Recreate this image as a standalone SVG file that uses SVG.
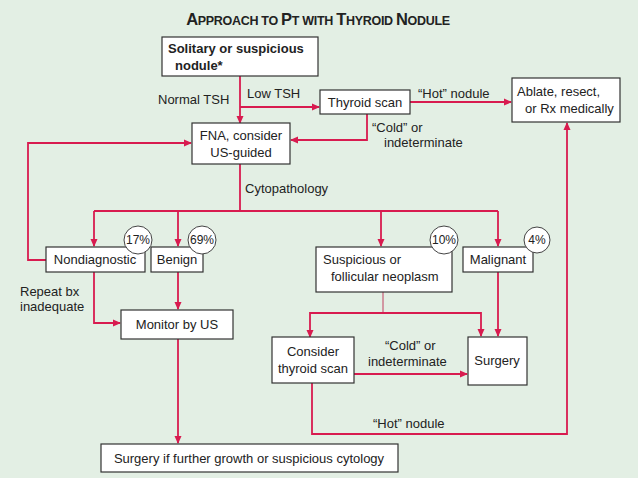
<svg xmlns="http://www.w3.org/2000/svg" width="638" height="478" viewBox="0 0 638 478">
<defs>
<marker id="a" markerWidth="8" markerHeight="8" refX="7" refY="4" orient="auto" markerUnits="userSpaceOnUse"><path d="M0,0.5 L8,4 L0,7.5 Z" fill="#d81b4f"/></marker>
<style>
.b{fill:#fff;stroke:#333;stroke-width:1.2}
.t{font-family:"Liberation Sans",Arial,sans-serif;font-size:13px;fill:#222}
.c{fill:none;stroke:#d81b4f;stroke-width:1.8}
.ar{marker-end:url(#a)}
.p{fill:#fff;stroke:#444;stroke-width:1}
</style>
</defs>
<rect width="638" height="478" fill="#e3efe4"/>
<text x="318" y="25" text-anchor="middle" font-family="Liberation Sans,Arial,sans-serif" font-weight="bold" fill="#222" font-size="16.5" letter-spacing="-0.3">A<tspan font-size="12.5">PPROACH TO </tspan>P<tspan font-size="12.5">T WITH </tspan>T<tspan font-size="12.5">HYROID </tspan>N<tspan font-size="12.5">ODULE</tspan></text>
<g id="connectors">
<path class="c ar" d="M240,76 V123"/>
<path class="c ar" d="M240,107 H319"/>
<path class="c ar" d="M410,102 H511"/>
<path class="c ar" d="M367,114 V140 H291"/>
<path class="c" d="M240,164 V211 M94,211 H498"/>
<path class="c ar" d="M94,211 V246"/>
<path class="c ar" d="M178,211 V246"/>
<path class="c ar" d="M381,211 V246"/>
<path class="c ar" d="M498,211 V246"/>
<path class="c ar" d="M46,260 H28 V143 H191"/>
<path class="c ar" d="M94,272 V323 H120"/>
<path class="c ar" d="M178,272 V309"/>
<path class="c ar" d="M178,339 V443"/>
<path class="c" d="M383,292 V313" style="stroke-width:1;stroke:#c04060"/>
<path class="c ar" d="M383,313 H310 V337"/>
<path class="c ar" d="M383,313 H481 V336"/>
<path class="c ar" d="M498,272 V336"/>
<path class="c ar" d="M354,374 H467"/>
<path class="c ar" d="M312,383 V434 H567 V123"/>
</g>
<g class="t">
<text x="158" y="104">Normal TSH</text>
<text x="247" y="98">Low TSH</text>
<text x="418" y="98">“Hot” nodule</text>
<text x="372" y="132">“Cold” or</text>
<text x="384" y="147">indeterminate</text>
<text x="245" y="193">Cytopathology</text>
<text x="20" y="296">Repeat bx</text>
<text x="20" y="311">inadequate</text>
<text x="385" y="350">“Cold” or</text>
<text x="368" y="366">indeterminate</text>
<text x="373" y="428">“Hot” nodule</text>
</g>
<g id="n1"><rect class="b" x="162" y="37" width="156" height="39"/><text class="t" font-weight="bold" x="168" y="53">Solitary or suspicious</text><text class="t" font-weight="bold" x="175" y="70">nodule*</text></g>
<g id="n2"><rect class="b" x="320" y="90" width="90" height="24"/><text class="t" x="365" y="107" text-anchor="middle">Thyroid scan</text></g>
<g id="n3"><rect class="b" x="512" y="78" width="108" height="44"/><text class="t" x="517" y="96">Ablate, resect,</text><text class="t" x="525" y="113">or Rx medically</text></g>
<g id="n4"><rect class="b" x="192" y="123" width="98" height="41"/><text class="t" x="241" y="140" text-anchor="middle">FNA, consider</text><text class="t" x="241" y="157" text-anchor="middle">US-guided</text></g>
<g id="n5"><rect class="b" x="46" y="247" width="99" height="25"/><text class="t" x="95" y="264" text-anchor="middle">Nondiagnostic</text></g>
<g id="n6"><rect class="b" x="151" y="247" width="52" height="25"/><text class="t" x="177" y="264" text-anchor="middle">Benign</text></g>
<g id="n7"><rect class="b" x="316" y="247" width="136" height="45"/><text class="t" x="323" y="264">Suspicious or</text><text class="t" x="331" y="281">follicular neoplasm</text></g>
<g id="n8"><rect class="b" x="463" y="247" width="70" height="25"/><text class="t" x="498" y="264" text-anchor="middle">Malignant</text></g>
<g id="n9"><rect class="b" x="121" y="310" width="112" height="29"/><text class="t" x="177" y="329" text-anchor="middle">Monitor by US</text></g>
<g id="n10"><rect class="b" x="272" y="337" width="82" height="46"/><text class="t" x="313" y="356" text-anchor="middle">Consider</text><text class="t" x="313" y="373" text-anchor="middle">thyroid scan</text></g>
<g id="n11"><rect class="b" x="468" y="337" width="59" height="48"/><text class="t" x="497" y="365" text-anchor="middle">Surgery</text></g>
<g id="n12"><rect class="b" x="101" y="444" width="297" height="28"/><text class="t" x="249" y="463" text-anchor="middle">Surgery if further growth or suspicious cytology</text></g>
<g id="pct" class="t" font-size="12">
<circle class="p" cx="138" cy="240" r="14"/><text x="138" y="244" text-anchor="middle" font-size="12">17%</text>
<circle class="p" cx="202" cy="240" r="14"/><text x="202" y="244" text-anchor="middle" font-size="12">69%</text>
<circle class="p" cx="444" cy="240" r="14"/><text x="444" y="244" text-anchor="middle" font-size="12">10%</text>
<circle class="p" cx="537" cy="240" r="13"/><text x="537" y="244" text-anchor="middle" font-size="12">4%</text>
</g>
</svg>
